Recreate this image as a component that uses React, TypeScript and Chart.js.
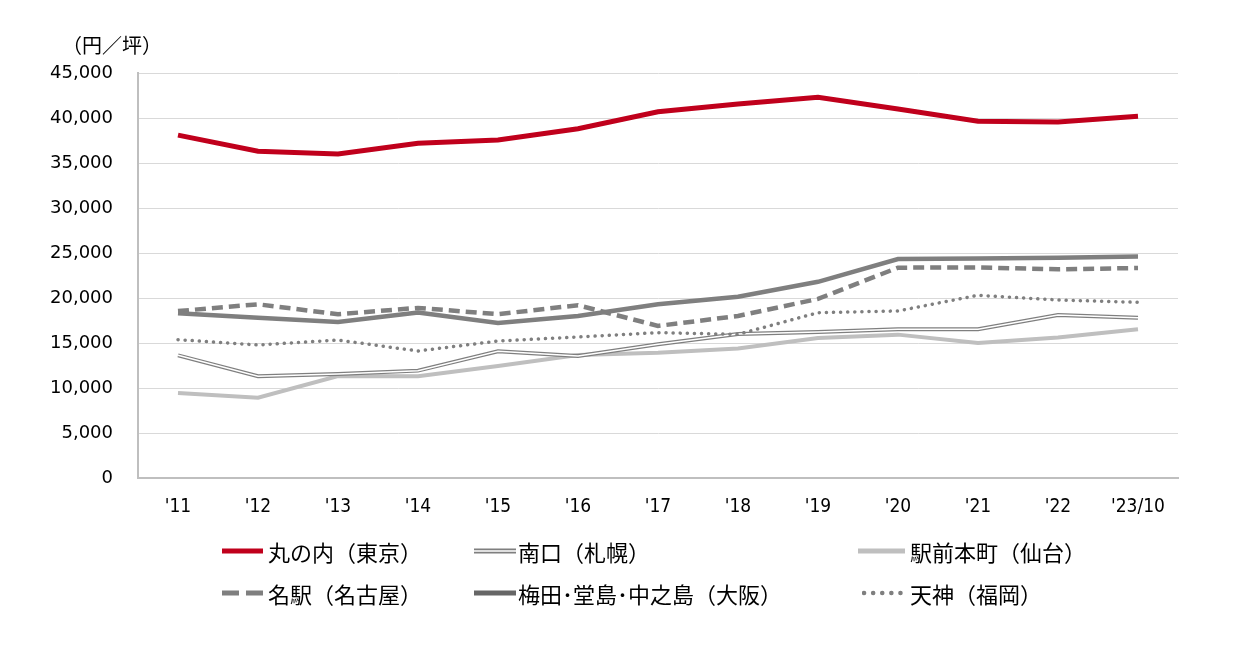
import React, { useEffect, useRef } from "react";
import { Chart, registerables } from "chart.js";

Chart.register(...registerables);

const categories = ["'11", "'12", "'13", "'14", "'15", "'16", "'17", "'18", "'19", "'20", "'21", "'22", "'23/10"];
const seriesNames = ["丸の内（東京）", "南口（札幌）", "駅前本町（仙台）", "名駅（名古屋）", "梅田･堂島･中之島（大阪）", "天神（福岡）"];
const marunouchi = [38100, 36300, 36000, 37200, 37550, 38800, 40700, 41550, 42300, 41000, 39650, 39550, 40200];
const sapporo = [13630, 11300, 11560, 11930, 14070, 13560, 14850, 16000, 16220, 16520, 16520, 18110, 17810];
const sendai = [9440, 8930, 11330, 11300, 12440, 13670, 13930, 14400, 15560, 15930, 15000, 15600, 16520];
const nagoya = [18550, 19300, 18200, 18900, 18200, 19200, 16900, 18000, 19900, 23370, 23400, 23190, 23330];
const osaka = [18300, 17800, 17330, 18400, 17220, 18000, 19300, 20150, 21800, 24330, 24400, 24480, 24600];
const fukuoka = [15370, 14780, 15330, 14110, 15220, 15670, 16150, 15960, 18370, 18560, 20300, 19780, 19520];
const yTitle = "（円／坪）";

const RED = "#C0001C";
const GRAY = "#7F7F7F";
const LIGHT = "#BFBFBF";

export default function App() {
  const ref = useRef<HTMLCanvasElement | null>(null);
  useEffect(() => {
    if (!ref.current) return;
    const chart = new Chart(ref.current, {
      type: "line",
      data: {
        labels: categories,
        datasets: [
          { label: seriesNames[2], data: sendai, borderColor: LIGHT, borderWidth: 4, pointRadius: 0, order: 7 },
          { label: seriesNames[1], data: sapporo, borderColor: GRAY, borderWidth: 4, pointRadius: 0, order: 6 },
          { label: seriesNames[1] + "_inner", data: sapporo, borderColor: "#FFFFFF", borderWidth: 1.5, pointRadius: 0, order: 5 },
          { label: seriesNames[5], data: fukuoka, borderColor: GRAY, borderWidth: 3.5, borderDash: [0.1, 7], borderCapStyle: "round", pointRadius: 0, order: 4 },
          { label: seriesNames[3], data: nagoya, borderColor: GRAY, borderWidth: 4.5, borderDash: [11, 6], pointRadius: 0, order: 3 },
          { label: seriesNames[4], data: osaka, borderColor: GRAY, borderWidth: 4.5, pointRadius: 0, order: 2 },
          { label: seriesNames[0], data: marunouchi, borderColor: RED, borderWidth: 5, pointRadius: 0, order: 1 },
        ],
      },
      options: {
        responsive: false,
        animation: false,
        layout: { padding: { left: 0, right: 75, top: 73, bottom: 135 } },
        plugins: { legend: { display: false }, tooltip: { enabled: false } },
        scales: {
          x: {
            offset: true,
            grid: { display: false },
            border: { display: true, color: LIGHT, width: 2 },
            ticks: { color: "#000", padding: 10, maxRotation: 0, autoSkip: false, font: { family: "'DejaVu Sans Condensed', 'Liberation Sans Narrow', sans-serif", size: 19 } },
            afterFit: (s: any) => { s.height = 40; },
          },
          y: {
            min: 0,
            max: 45000,
            ticks: {
              stepSize: 5000,
              color: "#000",
              padding: 25,
              font: { family: "'DejaVu Sans', sans-serif", size: 18 },
              callback: (v: any) => Number(v).toLocaleString("en-US"),
            },
            grid: { color: "#D9D9D9", lineWidth: 1, drawTicks: false },
            border: { display: true, color: LIGHT, width: 2 },
            afterFit: (s: any) => { s.width = 138; },
          },
        },
      },
    });
    return () => chart.destroy();
  }, []);

  const textStyle: React.CSSProperties = {
    position: "absolute",
    fontFamily: "'Noto Sans CJK JP', sans-serif",
    fontSize: 22,
    lineHeight: "26px",
    color: "#000",
    whiteSpace: "nowrap",
  };
  const sample = (x: number, y: number, w: number, kind: string) => {
    let inner: React.ReactNode = null;
    if (kind === "red") inner = <line x1={0} y1={5} x2={w} y2={5} stroke={RED} strokeWidth={5} />;
    if (kind === "double") inner = (<>
      <line x1={0} y1={5} x2={w} y2={5} stroke={GRAY} strokeWidth={5} />
      <line x1={0} y1={5} x2={w} y2={5} stroke="#fff" strokeWidth={1.6} />
    </>);
    if (kind === "light") inner = <line x1={0} y1={5} x2={w} y2={5} stroke={LIGHT} strokeWidth={5} />;
    if (kind === "dash") inner = <line x1={0} y1={5} x2={w} y2={5} stroke={GRAY} strokeWidth={5} strokeDasharray="17 7" />;
    if (kind === "solid") inner = <line x1={0} y1={5} x2={w} y2={5} stroke="#666" strokeWidth={5} />;
    if (kind === "dot") inner = <line x1={2} y1={5} x2={w} y2={5} stroke={GRAY} strokeWidth={4.5} strokeDasharray="0.1 9" strokeLinecap="round" />;
    return (
      <svg style={{ position: "absolute", left: x, top: y - 5 }} width={w} height={10}>
        {inner}
      </svg>
    );
  };

  return (
    <div style={{ position: "absolute", left: 0, top: 0, width: 1253, height: 653, background: "#fff" }}>
      <canvas ref={ref} width={1253} height={653} style={{ position: "absolute", left: 0, top: 0, width: 1253, height: 653 }} />
      <div style={{ ...textStyle, fontSize: 20, left: 62, top: 32 }}>{yTitle}</div>
      {sample(222, 551, 41, "red")}
      <div style={{ ...textStyle, left: 268, top: 538 }}>{seriesNames[0]}</div>
      {sample(474, 551, 42, "double")}
      <div style={{ ...textStyle, left: 518, top: 538 }}>{seriesNames[1]}</div>
      {sample(858, 551, 47, "light")}
      <div style={{ ...textStyle, left: 910, top: 538 }}>{seriesNames[2]}</div>
      {sample(222, 593, 41, "dash")}
      <div style={{ ...textStyle, left: 268, top: 580 }}>{seriesNames[3]}</div>
      {sample(474, 593, 42, "solid")}
      <div style={{ ...textStyle, left: 518, top: 580 }}>{seriesNames[4]}</div>
      {sample(862, 593, 45, "dot")}
      <div style={{ ...textStyle, left: 910, top: 580 }}>{seriesNames[5]}</div>
    </div>
  );
}
